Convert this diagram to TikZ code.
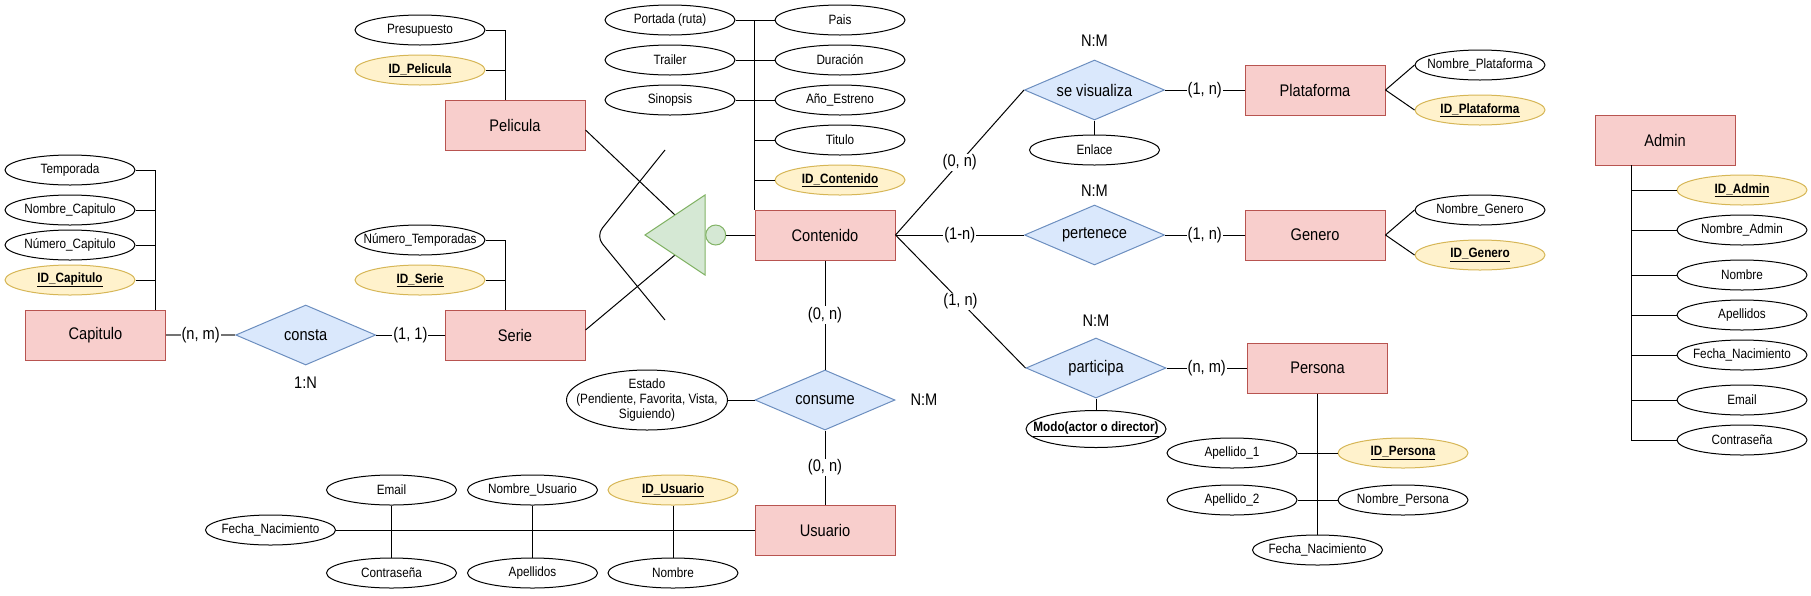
\documentclass[tikz,border=0pt]{standalone}
\usepackage{fontspec}
\setmainfont{Liberation Sans}[FakeStretch=0.87]
\usetikzlibrary{shapes.geometric,calc}
\definecolor{entfill}{HTML}{F8CECC}
\definecolor{entline}{HTML}{B85450}
\definecolor{relfill}{HTML}{DAE8FC}
\definecolor{relline}{HTML}{6C8EBF}
\definecolor{pkfill}{HTML}{FFF2CC}
\definecolor{pkline}{HTML}{D6B656}
\definecolor{isafill}{HTML}{D5E8D4}
\definecolor{isaline}{HTML}{82B366}
\newcommand{\bigtxt}{\fontsize{16.8}{19}\selectfont}
\newcommand{\attrtxt}{\fontsize{13.5}{15}\selectfont}
\newcommand{\pk}[1]{\underline{\textbf{#1}}}
\begin{document}
\begin{tikzpicture}[x=1pt, y=-1pt, line width=1pt,
        entity/.style={draw=entline, fill=entfill, minimum width=140pt, minimum height=50pt, inner sep=0pt, font=\bigtxt},
        rel/.style={diamond, aspect=2.33, draw=relline, fill=relfill, minimum width=140pt, minimum height=60pt, inner sep=0pt, font=\bigtxt},
        attr/.style={ellipse, draw, fill=white, minimum width=130pt, minimum height=30pt, inner xsep=-60pt, inner ysep=0pt, font=\attrtxt},
        pkattr/.style={attr, draw=pkline, fill=pkfill},
        card/.style={fill=white, inner sep=1pt, font=\bigtxt},
        ratiolbl/.style={inner sep=0pt, font=\bigtxt},
        isa/.style={draw=isaline, fill=isafill},
        greyconn/.style={draw=black!55, line width=1.6pt}]
        \useasboundingbox (0, 0) rectangle (1811, 595);

        \node[entity] (capitulo) at (95.5, 335) {Capitulo};
        \coordinate (captrunk) at (155, 310);
        \foreach \n/\y/\txt in {temporada/170/Temporada, nomcap/210/Nombre\_Capitulo, numcap/245/Número\_Capitulo} {
                \node[attr] (\n) at (70, \y) {\txt};
                \draw (\n.east) -| (captrunk);
            }
        \node[pkattr] (idcap) at (70, 280) {\pk{ID\_Capitulo}};
        \draw (idcap.east) -| (captrunk);

        \node[entity] (pelicula) at (515, 125) {Pelicula};
        \coordinate (peltrunk) at (505, 100);
        \node[attr] (presupuesto) at (420, 30) {Presupuesto};
        \node[pkattr] (idpel) at (420, 70) {\pk{ID\_Pelicula}};
        \foreach \n in {presupuesto, idpel} {
                \draw (\n.east) -| (peltrunk);
            }

        \node[entity] (serie) at (515, 335) {Serie};
        \coordinate (serietrunk) at (505, 310);
        \node[attr] (numtemp) at (420, 240) {Número\_Temporadas};
        \node[pkattr] (idserie) at (420, 280) {\pk{ID\_Serie}};
        \foreach \n in {numtemp, idserie} {
                \draw (\n.east) -| (serietrunk);
            }

        \node[rel] (consta) at (305.7, 335) {consta};
        \node[ratiolbl] (constaratio) at (305.5, 383) {1:N};
        \draw[greyconn] (capitulo) -- node[card, text=black] {(n, m)} (consta);
        \draw (consta) -- node[card] {(1, 1)} (serie);

        \node[entity] (contenido) at (825, 235) {Contenido};
        \foreach \n/\y/\txt in {portada/20/Portada (ruta), trailer/60/Trailer, sinopsis/100/Sinopsis} {
                \node[attr] (\n) at (670, \y) {\txt};
            }
        \foreach \n/\y/\txt in {pais/20/Pais, duracion/60/Duración, anio/100/Año\_Estreno, titulo/140/Titulo} {
                \node[attr] (\n) at (840, \y) {\txt};
            }
        \node[pkattr] (idcont) at (840, 180) {\pk{ID\_Contenido}};
        \foreach \l/\r in {portada/pais, trailer/duracion, sinopsis/anio} {
                \draw (\l) -- (\r);
            }
        \foreach \r in {titulo, idcont} {
                \draw (\r.west) -| (contenido.north west);
            }
        \draw (contenido.north west) -- (contenido.north west |- pais);

        \coordinate (isaapex) at (645, 235);
        \coordinate (isatop) at (705, 195);
        \coordinate (isabot) at (705, 275);
        \draw[rounded corners=10pt] (665, 150) -- (596, 236) -- (665, 320);
        \draw ([yshift=-5pt]pelicula.east) -- ($(isaapex)!.5!(isatop)$);
        \draw ([yshift=5pt]serie.east) -- ($(isaapex)!.5!(isabot)$);
        \filldraw[isa] (isaapex) -- (isatop) -- (isabot) -- cycle;
        \node[isa, circle, minimum size=20pt, inner sep=0pt] (isadot) at (715.7, 235) {};
        \draw (isadot) -- (contenido);

        \node[rel] (visualiza) at (1094.5, 90) {se visualiza};
        \node[ratiolbl] (visualizaratio) at (1094.5, 41) {N:M};
        \node[attr] (enlace) at (1094.5, 150) {Enlace};
        \node[rel] (pertenece) at (1094.5, 235) {pertenece};
        \node[ratiolbl] (perteneceratio) at (1094.5, 191) {N:M};
        \node[rel] (participa) at (1096, 368) {participa};
        \node[ratiolbl] (participaratio) at (1096, 321) {N:M};
        \node[attr, minimum width=140pt, minimum height=37pt] (modo) at (1096, 429) {\pk{Modo(actor o director)}};

        \draw (contenido.east) -- node[card] {(0, n)} (visualiza.west);
        \draw (contenido) -- node[card] {(1-n)} (pertenece);
        \draw (contenido.east) -- node[card] {(1, n)} (participa.west);
        \draw (visualiza) -- (enlace);
        \draw (participa) -- (modo);

        \node[entity] (plataforma) at (1315, 90) {Plataforma};
        \node[attr] (nomplat) at (1480, 65) {Nombre\_Plataforma};
        \node[pkattr] (idplat) at (1480, 110) {\pk{ID\_Plataforma}};
        \node[entity] (genero) at (1315, 235) {Genero};
        \node[attr] (nomgen) at (1480, 210) {Nombre\_Genero};
        \node[pkattr] (idgen) at (1480, 255) {\pk{ID\_Genero}};
        \draw (visualiza) -- node[card] {(1, n)} (plataforma);
        \draw (pertenece) -- node[card] {(1, n)} (genero);
        \foreach \a in {nomplat, idplat} {
                \draw (plataforma.east) -- (\a.west);
            }
        \foreach \a in {nomgen, idgen} {
                \draw (genero.east) -- (\a.west);
            }

        \node[entity] (persona) at (1317.5, 368) {Persona};
        \node[attr] (ape1) at (1232, 453) {Apellido\_1};
        \node[pkattr] (idper) at (1403, 453) {\pk{ID\_Persona}};
        \node[attr] (ape2) at (1232, 500) {Apellido\_2};
        \node[attr] (nomper) at (1403, 500) {Nombre\_Persona};
        \node[attr] (fechaper) at (1317.5, 550) {Fecha\_Nacimiento};
        \draw (participa) -- node[card] {(n, m)} (persona);
        \draw (persona) -- (fechaper);
        \draw (ape1) -- (idper);
        \draw (ape2) -- (nomper);

        \node[rel] (consume) at (825, 400) {consume};
        \node[ratiolbl] (consumeratio) at (924, 400) {N:M};
        \node[attr, minimum width=161pt, minimum height=60pt, inner ysep=-6pt, align=center] (estado) at (647, 400) {Estado\\(Pendiente, Favorita, Vista,\\Siguiendo)};
        \node[entity] (usuario) at (825, 530) {Usuario};
        \draw (contenido) -- node[card] {(0, n)} (consume);
        \draw (consume) -- node[card] {(0, n)} (usuario);
        \draw (estado) -- (consume);

        \node[attr] (fechausr) at (270.5, 530) {Fecha\_Nacimiento};
        \node[attr] (emailusr) at (391.5, 490) {Email};
        \node[attr] (passusr) at (391.5, 573) {Contraseña};
        \node[attr] (nomusr) at (532.5, 490) {Nombre\_Usuario};
        \node[attr] (apeusr) at (532.5, 573) {Apellidos};
        \node[pkattr] (idusr) at (673, 490) {\pk{ID\_Usuario}};
        \node[attr] (nombreusr) at (673, 573) {Nombre};
        \draw (fechausr) -- (usuario);
        \foreach \t/\b in {emailusr/passusr, nomusr/apeusr, idusr/nombreusr} {
                \draw (\t) -- (\b);
            }

        \node[entity] (admin) at (1665, 140) {Admin};
        \coordinate (admtrunk) at (1631, 165);
        \node[pkattr] (idadm) at (1742, 190) {\pk{ID\_Admin}};
        \foreach \n/\y/\txt in {nomadm/230/Nombre\_Admin, nombreadm/275/Nombre, apeadm/315/Apellidos, fechaadm/355/Fecha\_Nacimiento, emailadm/400/Email, passadm/440/Contraseña} {
                \node[attr] (\n) at (1742, \y) {\txt};
            }
        \foreach \a in {idadm, nomadm, nombreadm, apeadm, fechaadm, emailadm, passadm} {
                \draw (admtrunk) |- (\a.west);
            }
    \end{tikzpicture}
\end{document}
